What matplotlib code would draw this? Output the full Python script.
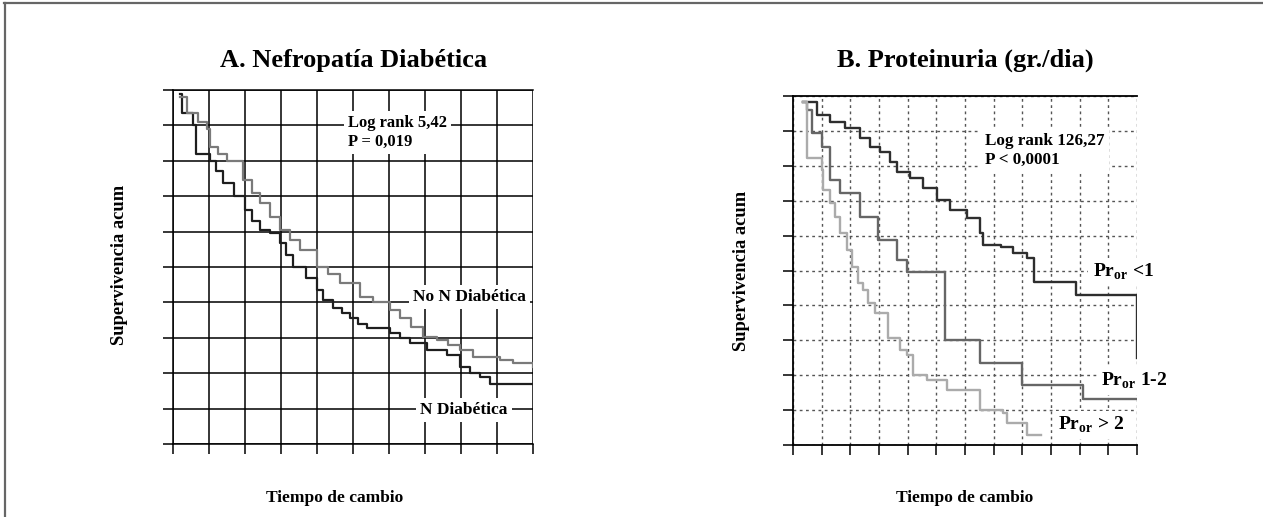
import matplotlib
matplotlib.use("Agg")
import matplotlib.pyplot as plt
from matplotlib.lines import Line2D

plt.rcParams['font.family'] = ['Liberation Serif', 'DejaVu Serif']
plt.rcParams['font.weight'] = 'bold'
plt.rcParams['mathtext.fontset'] = 'custom'
plt.rcParams['mathtext.rm'] = 'Liberation Serif:bold'
plt.rcParams['mathtext.bf'] = 'Liberation Serif:bold'

# panel A - Nefropatia diabetica (survival)
t_nd = [0.19, 0.25, 0.55, 0.65, 1.03, 1.2, 1.39, 1.7, 2.0, 2.2, 2.42, 2.69, 2.97, 3.15,
        3.33, 3.7, 4.0, 4.17, 4.44, 4.7, 4.92, 5.15, 5.39, 6.03, 6.3, 6.58, 7.06, 7.61,
        7.97, 8.25, 8.53, 8.81, 10.0]
s_nd = [0.99, 0.935, 0.90, 0.82, 0.80, 0.77, 0.737, 0.70, 0.66, 0.63, 0.605, 0.596, 0.568, 0.535,
        0.50, 0.47, 0.435, 0.407, 0.384, 0.37, 0.356, 0.34, 0.328, 0.314, 0.30, 0.285, 0.266, 0.251,
        0.218, 0.20, 0.189, 0.17, 0.17]
t_nond = [0.19, 0.39, 0.7, 0.94, 1.03, 1.25, 1.5, 1.94, 2.2, 2.42, 2.7, 2.97, 3.25, 3.53, 4.0,
          4.3, 4.64, 5.19, 5.56, 6.03, 6.3, 6.6, 6.94, 7.33, 7.65, 7.97, 8.33, 9.08, 9.44, 10.0]
s_nond = [0.98, 0.935, 0.91, 0.89, 0.84, 0.82, 0.80, 0.746, 0.71, 0.68, 0.64, 0.605, 0.575, 0.548, 0.50,
          0.48, 0.455, 0.415, 0.40, 0.378, 0.356, 0.33, 0.302, 0.294, 0.28, 0.266, 0.246, 0.237, 0.229, 0.218]

# panel B - proteinuria
t_p1 = [0.35, 0.84, 1.29, 1.82, 2.34, 2.69, 3.04, 3.39, 3.64, 4.09, 4.55, 5.03, 5.49, 6.08,
        6.54, 6.64, 7.24, 7.69, 8.18, 8.39, 9.86, 12.0]
s_p1 = [0.983, 0.946, 0.926, 0.908, 0.88, 0.854, 0.84, 0.81, 0.782, 0.765, 0.736, 0.702, 0.673, 0.65,
        0.607, 0.573, 0.567, 0.55, 0.536, 0.467, 0.43, 0.25]
t_p12 = [0.35, 0.5, 0.66, 1.0, 1.29, 1.64, 2.34, 2.97, 3.64, 3.99, 5.31, 6.54, 8.0, 10.1, 12.0]
s_p12 = [0.983, 0.96, 0.894, 0.854, 0.76, 0.722, 0.653, 0.587, 0.53, 0.496, 0.30, 0.235, 0.172, 0.132, 0.132]
t_p2 = [0.35, 0.49, 1.01, 1.05, 1.29, 1.47, 1.64, 1.89, 2.06, 2.27, 2.45, 2.62, 2.87, 3.32,
        3.74, 3.99, 4.2, 4.69, 5.38, 6.54, 7.34, 7.48, 8.18, 8.64]
s_p2 = [0.983, 0.822, 0.788, 0.73, 0.693, 0.653, 0.607, 0.559, 0.51, 0.464, 0.444, 0.407, 0.378, 0.307,
        0.272, 0.258, 0.20, 0.186, 0.158, 0.10, 0.092, 0.063, 0.029, 0.029]

W, H = 1263, 517
fig = plt.figure(figsize=(W / 100, H / 100), dpi=100)

# frame lines top and left
fig.add_artist(Line2D([4 / W, 1], [1 - 3 / H, 1 - 3 / H], color='#666666', lw=1.6))
fig.add_artist(Line2D([5 / W, 5 / W], [0, 1 - 3 / H], color='#666666', lw=1.6))

axA = fig.add_axes([173 / W, 73 / H, 360 / W, 354 / H])
axB = fig.add_axes([793 / W, 72 / H, 344 / W, 349 / H])

box = dict(facecolor='white', edgecolor='none', pad=3)

# titles
fig.text(354 / W, 1 - 60 / H, 'A. Nefropatía Diabética', fontsize=19, fontweight='bold',
         ha='center', va='center')
fig.text(965 / W, 1 - 60 / H, 'B. Proteinuria (gr./dia)', fontsize=19, fontweight='bold',
         ha='center', va='center')

# ---- panel A
axA.set_xlim(0, 10)
axA.set_ylim(0, 1)
axA.set_xticks(range(11))
axA.set_yticks([i / 10 for i in range(11)])
axA.set_xticklabels([])
axA.set_yticklabels([])
axA.grid(True, color='black', lw=1.1, ls='-')
axA.tick_params(direction='out', length=7, width=1.1, color='black')
for sp in axA.spines.values():
    sp.set_linewidth(1.1)
axA.spines['right'].set_visible(False)
axA.step(t_nd, s_nd, where='post', color='#1e1e1e', lw=1.6, zorder=3)
axA.step(t_nond, s_nond, where='post', color='#7a7a7a', lw=1.6, zorder=3)
axA.text(4.86, 0.88, 'Log rank 5,42\nP = 0,019', fontsize=12, va='center', ha='left',
         linespacing=1.25, bbox=box, zorder=4)
axA.text(6.67, 0.415, 'No N Diabética', fontsize=12.5, va='center', ha='left', bbox=box, zorder=4)
axA.text(6.86, 0.096, 'N Diabética', fontsize=12.5, va='center', ha='left', bbox=box, zorder=4)
axA.set_ylabel('Supervivencia acum', fontsize=13.3, fontweight='bold')
axA.set_xlabel('Tiempo de cambio', fontsize=12.5, fontweight='bold')
axA.yaxis.set_label_coords(-0.125, 0.506)
axA.xaxis.set_label_coords(0.45, -0.13)

# ---- panel B
axB.set_xlim(0, 12)
axB.set_ylim(0, 1)
axB.set_xticks(range(13))
axB.set_yticks([i / 10 for i in range(11)])
axB.set_xticklabels([])
axB.set_yticklabels([])
axB.grid(True, color='#555555', lw=1.0, ls=(0, (2, 2.5)))
axB.tick_params(direction='out', length=7, width=1.1, color='black')
for sp in axB.spines.values():
    sp.set_linewidth(1.3)
axB.spines['right'].set_visible(False)
axB.step(t_p1, s_p1, where='post', color='#2e2e2e', lw=1.7, zorder=3)
axB.step(t_p12, s_p12, where='post', color='#666666', lw=1.7, zorder=3)
axB.step(t_p2, s_p2, where='post', color='#ababab', lw=1.7, zorder=3)
axB.text(6.71, 0.845, 'Log rank 126,27\nP < 0,0001', fontsize=12.3, va='center', ha='left',
         linespacing=1.25, bbox=box, zorder=4)
axB.text(10.45, 0.496, r'Pr$_{\rm or}$ <1', fontsize=14, va='center', ha='left',
         bbox=box, zorder=4, clip_on=False)
axB.text(10.73, 0.183, r'Pr$_{\rm or}$ 1-2', fontsize=14, va='center', ha='left',
         bbox=box, zorder=4, clip_on=False)
axB.text(9.23, 0.057, r'Pr$_{\rm or}$ > 2', fontsize=14, va='center', ha='left',
         bbox=box, zorder=4, clip_on=False)
axB.set_ylabel('Supervivencia acum', fontsize=13.3, fontweight='bold')
axB.set_xlabel('Tiempo de cambio', fontsize=12.5, fontweight='bold')
axB.yaxis.set_label_coords(-0.125, 0.50)
axB.xaxis.set_label_coords(0.5, -0.13)

fig.savefig('out.png', dpi=100)
